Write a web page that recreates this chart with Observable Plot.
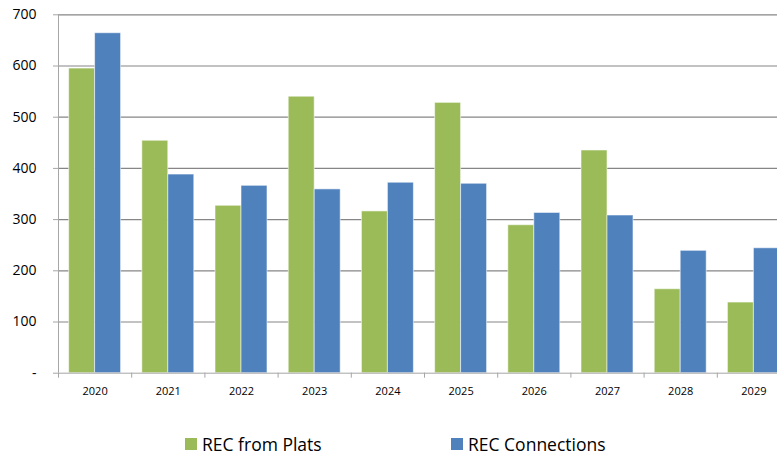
<!DOCTYPE html>
<html>
<head>
<meta charset="utf-8">
<script src="https://cdn.jsdelivr.net/npm/d3@7"></script>
<script src="https://cdn.jsdelivr.net/npm/@observablehq/plot@0.6"></script>
<style>
  html, body { margin: 0; padding: 0; background: #fff; overflow: hidden; }
  #wrap { position: relative; width: 777px; height: 457px; overflow: hidden; font-family: "Open Sans", sans-serif; }
  #chart svg text { fill: #000; }
  .legend-item { position: absolute; display: flex; align-items: center; font-size: 17.5px; color: #000; white-space: nowrap; }
  .legend-swatch { width: 12px; height: 12px; margin-right: 5px; }
</style>
</head>
<body>
<div id="wrap">
  <div id="chart"></div>
  <div id="legend"></div>
</div>
<script>
const years = [2020, 2021, 2022, 2023, 2024, 2025, 2026, 2027, 2028, 2029];
const platsValues = [595, 454, 327, 540, 316, 528, 289, 435, 164, 138];
const connectionValues = [664, 388, 366, 359, 372, 370, 313, 308, 239, 244];
const seriesNames = ["REC from Plats", "REC Connections"];
const seriesColors = ["#9BBB59", "#4F81BD"];
const yTicks = [0, 100, 200, 300, 400, 500, 600, 700];
const yTickLabels = ["-", "100", "200", "300", "400", "500", "600", "700"];

// layout constants (in year units)
const barW = 0.355;

const rows = [];
years.forEach((yr, i) => {
  rows.push({year: yr, series: seriesNames[0], value: platsValues[i], x1: yr - barW, x2: yr});
  rows.push({year: yr, series: seriesNames[1], value: connectionValues[i], x1: yr, x2: yr + barW});
});
const boundaries = years.map(y => y - 0.5).concat([years[years.length - 1] + 0.5]);

const chart = Plot.plot({
  width: 777,
  height: 410,
  marginLeft: 58,
  marginRight: -13,
  marginTop: 14.3,
  marginBottom: 37.3,
  style: {fontFamily: "Open Sans, sans-serif", fontSize: "14px", color: "#a6a6a6", background: "transparent", overflow: "visible"},
  x: {domain: [years[0] - 0.5, years[years.length - 1] + 0.5], ticks: boundaries, tickFormat: () => "", tickSize: 5, label: null},
  y: {domain: [0, 700], ticks: yTicks, tickFormat: (d) => yTickLabels[yTicks.indexOf(d)], tickSize: 5, tickPadding: 17, label: null},
  color: {domain: seriesNames, range: seriesColors},
  marks: [
    Plot.ruleY(yTicks.filter(d => d > 0), {stroke: "#868686", strokeWidth: 1.2}),
    Plot.rect(rows, {x1: "x1", x2: "x2", y1: 0, y2: "value", fill: "series", stroke: "white", strokeOpacity: 0.55, strokeWidth: 1}),
    Plot.ruleY([0], {stroke: "#a6a6a6"}),
    Plot.ruleX([years[0] - 0.5], {stroke: "#a6a6a6"}),
    Plot.text(years, {x: d => d, y: 0, dy: 18, text: d => String(d), fontSize: 11, fill: "#000", lineAnchor: "middle"})
  ]
});
document.getElementById("chart").appendChild(chart);

const legend = document.getElementById("legend");
const legendLefts = [185, 451];
seriesNames.forEach((name, i) => {
  const item = document.createElement("div");
  item.className = "legend-item";
  item.style.left = legendLefts[i] + "px";
  item.style.top = "432px";
  const sw = document.createElement("span");
  sw.className = "legend-swatch";
  sw.style.background = seriesColors[i];
  const label = document.createElement("span");
  label.textContent = name;
  item.appendChild(sw);
  item.appendChild(label);
  legend.appendChild(item);
});
</script>
</body>
</html>
